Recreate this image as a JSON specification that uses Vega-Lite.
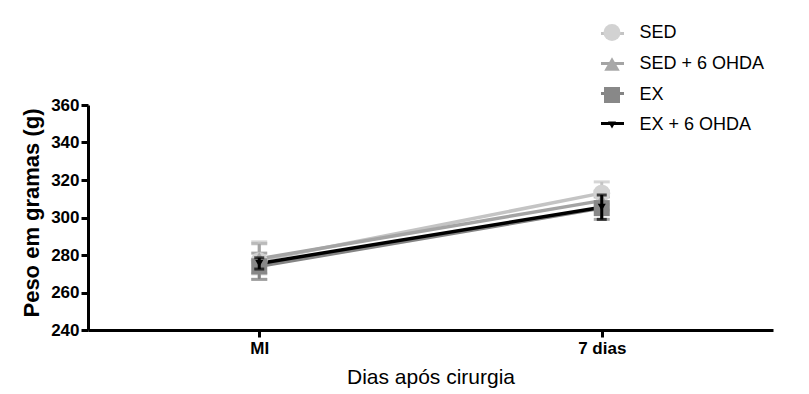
{
  "$schema": "https://vega.github.io/schema/vega-lite/v6.json",
  "width": 685,
  "height": 225,
  "autosize": {"type": "none"},
  "padding": {"left": 88, "top": 105, "right": 36, "bottom": 64},
  "background": "white",
  "config": {
    "font": "Liberation Sans",
    "view": {"stroke": null},
    "axis": {
      "grid": false,
      "domainColor": "black",
      "domainWidth": 3,
      "tickColor": "black",
      "tickWidth": 3,
      "tickSize": 7,
      "labelColor": "black",
      "labelFont": "Liberation Sans",
      "labelFontSize": 17,
      "labelFontWeight": "bold",
      "titleColor": "black",
      "titleFont": "Liberation Sans"
    }
  },
  "data": {
    "values": [
      {"grupo": "SED", "t": 1, "media": 277, "epm": 10},
      {"grupo": "SED", "t": 3, "media": 313, "epm": 6},
      {"grupo": "SED + 6 OHDA", "t": 1, "media": 278, "epm": 8},
      {"grupo": "SED + 6 OHDA", "t": 3, "media": 309, "epm": 5},
      {"grupo": "EX", "t": 1, "media": 274, "epm": 7},
      {"grupo": "EX", "t": 3, "media": 305, "epm": 6},
      {"grupo": "EX + 6 OHDA", "t": 1, "media": 275.5, "epm": 3},
      {"grupo": "EX + 6 OHDA", "t": 3, "media": 305.5, "epm": 6.5}
    ]
  },
  "encoding": {
    "x": {
      "field": "t",
      "type": "quantitative",
      "scale": {"domain": [0, 4]},
      "axis": {
        "values": [1, 3],
        "labelExpr": "datum.value == 1 ? 'MI' : '7 dias'",
        "labelPadding": 3,
        "title": "Dias após cirurgia",
        "titleFontSize": 21,
        "titleFontWeight": "normal",
        "titleX": 342.5,
        "titleY": 53,
        "titleBaseline": "alphabetic"
      }
    },
    "y": {
      "field": "media",
      "type": "quantitative",
      "scale": {"domain": [240, 360]},
      "axis": {
        "values": [240, 260, 280, 300, 320, 340, 360],
        "labelPadding": 2,
        "title": "Peso em gramas (g)",
        "titleFontSize": 22,
        "titleFontWeight": "bold",
        "titleAngle": -90,
        "titleX": -50,
        "titleY": 107.5,
        "titleAlign": "center",
        "titleBaseline": "alphabetic"
      }
    }
  },
  "layer": [
    {
      "transform": [{"filter": "datum.grupo != 'EX + 6 OHDA'"}],
      "mark": {"type": "errorbar", "thickness": 3, "ticks": {"size": 16, "thickness": 3}},
      "encoding": {
        "yError": {"field": "epm"},
        "color": {
          "field": "grupo",
          "type": "nominal",
          "legend": null,
          "scale": {
            "domain": ["EX + 6 OHDA", "EX", "SED + 6 OHDA", "SED"],
            "range": ["#000000", "#848484", "#a4a4a4", "#c4c4c4"]
          }
        }
      }
    },
    {
      "mark": {"type": "line", "strokeWidth": 3.5},
      "encoding": {
        "stroke": {
          "field": "grupo",
          "type": "nominal",
          "sort": ["SED", "SED + 6 OHDA", "EX", "EX + 6 OHDA"],
          "scale": {"range": ["#c4c4c4", "#a4a4a4", "#848484", "#000000"]},
          "legend": {
            "orient": "none",
            "legendX": 511.5,
            "legendY": -84.5,
            "title": null,
            "padding": 0,
            "symbolType": "stroke",
            "symbolSize": 529,
            "symbolStrokeWidth": 3,
            "labelExpr": "''",
            "labelFontSize": 18,
            "labelOffset": 18,
            "rowPadding": 8
          }
        }
      }
    },
    {
      "mark": {"type": "point", "filled": true, "opacity": 1},
      "encoding": {
        "fill": {
          "field": "grupo",
          "type": "nominal",
          "scale": {
            "domain": ["SED", "SED + 6 OHDA", "EX", "EX + 6 OHDA"],
            "range": ["#d2d2d2", "#a8a8a8", "#888888", "#000000"]
          },
          "legend": {
            "orient": "none",
            "legendX": 514.5,
            "legendY": -82,
            "title": null,
            "padding": 0,
            "labelFontSize": 18,
            "labelColor": "black",
            "labelOffset": 18,
            "rowPadding": 10
          }
        },
        "shape": {
          "field": "grupo",
          "type": "nominal",
          "scale": {
            "domain": ["SED", "SED + 6 OHDA", "EX", "EX + 6 OHDA"],
            "range": ["circle", "triangle-up", "square", "triangle-down"]
          }
        },
        "size": {
          "field": "grupo",
          "type": "nominal",
          "scale": {
            "type": "ordinal",
            "domain": ["SED", "SED + 6 OHDA", "EX", "EX + 6 OHDA"],
            "range": [289, 240, 256, 64]
          }
        }
      }
    },
    {
      "transform": [{"filter": "datum.grupo == 'EX + 6 OHDA'"}],
      "mark": {"type": "errorbar", "thickness": 3, "ticks": {"size": 10, "thickness": 3}},
      "encoding": {
        "yError": {"field": "epm"},
        "color": {
          "field": "grupo",
          "type": "nominal",
          "legend": null,
          "scale": {
            "domain": ["EX + 6 OHDA", "EX", "SED + 6 OHDA", "SED"],
            "range": ["#000000", "#848484", "#a4a4a4", "#c4c4c4"]
          }
        }
      }
    }
  ]
}
